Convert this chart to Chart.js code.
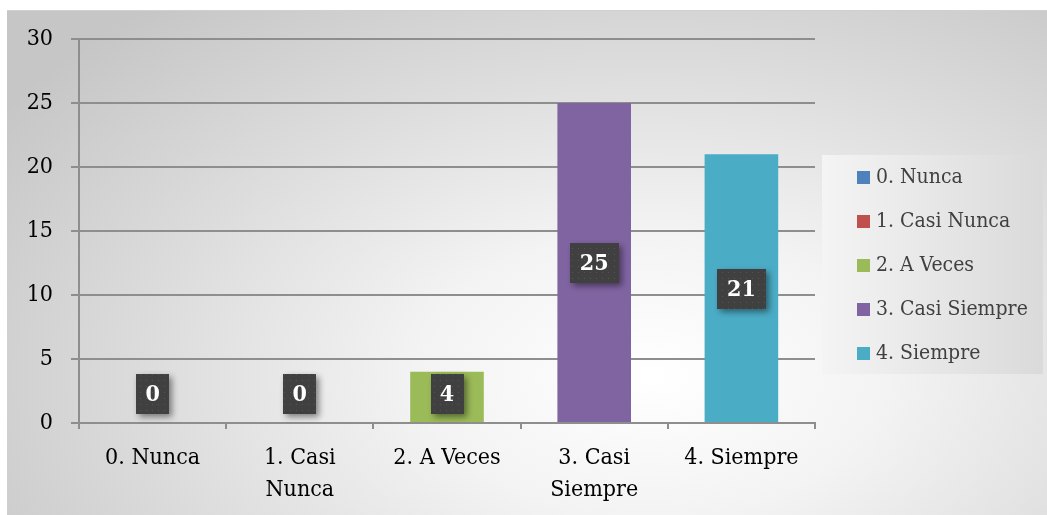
<!DOCTYPE html>
<html>
<head>
<meta charset="utf-8">
<script src="https://cdn.jsdelivr.net/npm/chart.js@4.4.1/dist/chart.umd.min.js"></script>
<style>
  html, body { margin: 0; padding: 0; background: #ffffff; }
  #frame {
    position: absolute; left: 7px; top: 10px; width: 1040px; height: 505px;
    background: radial-gradient(ellipse 75% 95% at 62% 72%, #ffffff 0%, #f3f3f3 30%, #dcdcdc 65%, #c6c6c6 100%);
    border-top: 1px solid #d0d0d0;
  }
  #wrap { position: absolute; left: 0; top: 0; width: 1047px; height: 515px; }
</style>
</head>
<body>
<div id="frame"></div>
<div id="wrap"><canvas id="grafico" width="1047" height="515"></canvas></div>
<script>
// Categorías y valores
const categorias = ['0. Nunca', '1. Casi Nunca', '2. A Veces', '3. Casi Siempre', '4. Siempre'];
const etiquetasEje = [['0. Nunca'], ['1. Casi', 'Nunca'], ['2. A Veces'], ['3. Casi', 'Siempre'], ['4. Siempre']];
const valores = [0, 0, 4, 25, 21];
const colores = ['#4F81BD', '#C0504D', '#9BBB59', '#8064A2', '#4BACC6'];
const ticksY = [0, 5, 10, 15, 20, 25, 30];

const fuente = '"DejaVu Serif Condensed", "DejaVu Serif", serif';

// Patrón punteado para las cajas de las etiquetas
function crearPatron(ctx) {
    const c = document.createElement('canvas');
    c.width = 6; c.height = 6;
    const p = c.getContext('2d');
    p.fillStyle = '#404040';
    p.fillRect(0, 0, 6, 6);
    p.fillStyle = '#555555';
    p.fillRect(2, 2, 1, 1);
    return ctx.createPattern(c, 'repeat');
}

// Etiquetas de datos en cajas oscuras
const etiquetasDatos = {
    id: 'etiquetasDatos',
    afterDatasetsDraw(chart) {
        const ctx = chart.ctx;
        const meta = chart.getDatasetMeta(0);
        const y = chart.scales.y;
        const patron = crearPatron(ctx);
        ctx.save();
        ctx.font = 'bold 23px ' + fuente;
        meta.data.forEach((bar, i) => {
            const v = valores[i];
            const texto = String(v);
            const ancho = texto.length > 1 ? 49 : 33;
            const alto = 40;
            const cy = Math.min(y.getPixelForValue(v / 2), y.getPixelForValue(0) - 29);
            const x0 = Math.round(bar.x - ancho / 2);
            const y0 = Math.round(cy - alto / 2);
            ctx.save();
            ctx.shadowColor = 'rgba(0,0,0,0.45)';
            ctx.shadowBlur = 6;
            ctx.shadowOffsetX = 3;
            ctx.shadowOffsetY = 3;
            ctx.fillStyle = patron;
            ctx.fillRect(x0, y0, ancho, alto);
            ctx.restore();
            ctx.fillStyle = '#ffffff';
            ctx.textAlign = 'center';
            ctx.textBaseline = 'middle';
            ctx.fillText(texto, bar.x, cy + 1);
        });
        ctx.restore();
    }
};

// Leyenda a la derecha
const leyenda = {
    id: 'leyenda',
    afterDraw(chart) {
        const ctx = chart.ctx;
        ctx.save();
        const g = ctx.createLinearGradient(822, 0, 1043, 0);
        g.addColorStop(0, '#f4f4f4');
        g.addColorStop(1, '#dadada');
        ctx.fillStyle = g;
        ctx.fillRect(822, 155, 221, 219);
        ctx.font = '21px ' + fuente;
        ctx.textBaseline = 'middle';
        ctx.textAlign = 'left';
        categorias.forEach((c, i) => {
            const cy = 177 + i * 44;
            ctx.fillStyle = colores[i];
            ctx.fillRect(857, cy - 6, 13, 13);
            ctx.fillStyle = '#404040';
            ctx.fillText(c, 876, cy + 1);
        });
        ctx.restore();
    }
};

new Chart(document.getElementById('grafico'), {
    type: 'bar',
    data: {
        labels: etiquetasEje,
        datasets: [{
            data: valores,
            backgroundColor: colores,
            borderWidth: 0,
            categoryPercentage: 1,
            barPercentage: 0.5
        }]
    },
    options: {
        responsive: false,
        animation: false,
        events: [],
        layout: { padding: { top: 39, left: 7, right: 232, bottom: 0 } },
        plugins: {
            legend: { display: false },
            tooltip: { enabled: false }
        },
        scales: {
            x: {
                afterFit(s) { s.height = 92; },
                grid: {
                    offset: true,
                    drawOnChartArea: false,
                    drawTicks: true,
                    tickLength: 6,
                    color: '#8e8e8e',
                    lineWidth: 2
                },
                border: { color: '#8e8e8e', width: 2 },
                ticks: {
                    color: '#000000',
                    padding: 14,
                    maxRotation: 0,
                    font: { family: fuente, size: 23, lineHeight: 1.35 }
                }
            },
            y: {
                min: 0,
                max: 30,
                afterFit(s) { s.width = 72; },
                afterBuildTicks(s) { s.ticks = ticksY.map(v => ({ value: v })); },
                grid: {
                    color: '#8e8e8e',
                    lineWidth: 2,
                    tickLength: 8
                },
                border: { color: '#8e8e8e', width: 2 },
                ticks: {
                    color: '#000000',
                    padding: 18,
                    font: { family: fuente, size: 23 }
                }
            }
        }
    },
    plugins: [etiquetasDatos, leyenda]
});
</script>
</body>
</html>
